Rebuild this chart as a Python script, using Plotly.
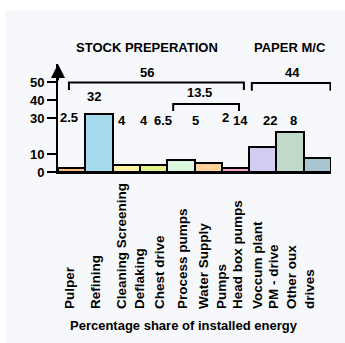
import numpy as np
import plotly.graph_objects as go

# Installed-energy share per consumer (percent)
values = [2.5, 32, 4, 4, 6.5, 5, 2, 14, 22, 8]
bar_colors = ["#fdb97e", "#a6d8ee", "#fdf1a6", "#e4f08c", "#dbf7dd",
              "#fdd39a", "#f5a7c9", "#d1cdf1", "#c1d9c9", "#a9c5d2"]

# Rotated category labels under the bars and where they sit (bar units)
x_labels = ["Pulper", "Refining", "Cleaning Screening", "Deflaking", "Chest drive",
            "Process pumps", "Water Supply<br>Pumps", "Head box pumps",
            "Voccum plant", "PM - drive", "Other oux<br>drives"]
x_label_pos = [-0.06, 0.86, 1.84, 2.5, 3.24, 4.08, 5.16, 6.09, 6.83, 7.41, 8.38]

# Horizontal placement of the value labels (bar units)
value_label_x = [-0.1, 0.82, 1.84, 2.65, 3.35, 4.52, 5.62, 6.19, 7.27, 8.14]

y_ticks = [0, 10, 30, 40, 50]

# Groups: (first bar, last bar) index ranges
stock_idx = (0, 6)
paper_idx = (7, 9)
pumps_idx = (4, 6)

FONT = "Liberation Sans, Arial, Helvetica, sans-serif"
BG = "#f7f8fc"
W, H = 345, 343
M_L, M_R, M_T, M_B = 58, 14, 10, 10
PLOT_W = W - M_L - M_R
PLOT_H = H - M_T - M_B


def py(px):
    """Pixel row (from the top of the figure) -> paper coordinate."""
    return (H - M_B - px) / PLOT_H


def pxx(px):
    """Pixel column -> paper coordinate."""
    return (px - M_L) / PLOT_W


x = np.arange(len(values))

fig = go.Figure(go.Bar(
    x=x, y=values, width=1,
    marker=dict(color=bar_colors, line=dict(color="black", width=2)),
    hoverinfo="skip",
))
# invisible companion trace that carries the rotated category axis
fig.add_trace(go.Scatter(x=[x[0]], y=[0], xaxis="x2", yaxis="y",
                         mode="markers", marker=dict(opacity=0),
                         hoverinfo="skip", showlegend=False))

annotations = []

# value labels: a common row, lifted above any bar that reaches it
row_y = 28.5
for xi, v in zip(value_label_x, values):
    if v >= row_y - 4:
        y = v + 10
    elif v < 3:
        y = row_y + 2
    else:
        y = row_y
    annotations.append(dict(x=xi, y=y, xref="x", yref="y", text=f"{v:g}",
                            showarrow=False, font=dict(size=13, weight="bold")))


# brackets with their totals
def bracket(x0, x1, yt, yb):
    return dict(type="path", xref="x", yref="y",
                path=f"M {x0},{yb} L {x0},{yt} L {x1},{yt} L {x1},{yb}",
                line=dict(color="black", width=2))


shapes = [
    # light panel behind the whole drawing
    dict(type="rect", xref="paper", yref="paper", x0=pxx(5), x1=pxx(W),
         y0=py(H), y1=py(10), fillcolor=BG, line=dict(width=0), layer="below"),
    bracket(-0.1, 6.31, 49.7, 45.6),
    bracket(6.6, 9.48, 49.5, 45.2),
    bracket(3.72, 6.13, 37.8, 33.9),
]
totals = [
    (sum(values[stock_idx[0]:stock_idx[1] + 1]), 2.76, 55.2),
    (sum(values[paper_idx[0]:paper_idx[1] + 1]), 8.1, 55.2),
    (sum(values[pumps_idx[0]:pumps_idx[1] + 1]), 4.7, 43.9),
]
for total, tx, ty in totals:
    annotations.append(dict(x=tx, y=ty, xref="x", yref="y", text=f"{total:g}",
                            showarrow=False, font=dict(size=13, weight="bold")))

# group headings and axis caption
annotations += [
    dict(x=2.76, y=py(47), xref="x", yref="paper", yanchor="middle",
         text="STOCK PREPERATION", showarrow=False,
         font=dict(size=13, weight="bold")),
    dict(x=8.0, y=py(47), xref="x", yref="paper", yanchor="middle",
         text="PAPER M/C", showarrow=False,
         font=dict(size=13, weight="bold")),
    dict(x=pxx(184), y=py(325), xref="paper", yref="paper",
         yanchor="middle", text="Percentage share of installed energy",
         showarrow=False, font=dict(size=13, weight="bold")),
]

# arrowhead on the value axis
annotations.append(dict(x=-0.5, y=60, xref="x", yref="y", ax=-0.5, ay=50,
                        axref="x", ayref="y", text="", showarrow=True,
                        arrowhead=2, arrowsize=1.4, arrowwidth=2,
                        arrowcolor="black"))

x_range = [-0.5, 9.5]
fig.update_layout(
    width=W, height=H,
    margin=dict(l=M_L, r=M_R, t=M_T, b=M_B, autoexpand=False),
    paper_bgcolor="white", plot_bgcolor="rgba(0,0,0,0)",
    font=dict(family=FONT, color="black"),
    showlegend=False, bargap=0,
    annotations=annotations, shapes=shapes,
    xaxis=dict(range=x_range, showline=True, linecolor="black", linewidth=2,
               showticklabels=False, ticks="", showgrid=False, zeroline=False,
               fixedrange=True, automargin=False),
    xaxis2=dict(range=x_range, overlaying="x", side="top", anchor="free",
                position=py(309), tickmode="array", tickvals=x_label_pos,
                ticktext=x_labels, tickangle=-90, ticks="", showline=False,
                showgrid=False, zeroline=False, fixedrange=True,
                automargin=False, tickfont=dict(size=13.5, weight="bold")),
    yaxis=dict(domain=[py(172), py(64)], range=[0, 60], tickvals=y_ticks,
               ticks="outside", ticklen=9, tickwidth=2, tickcolor="black",
               showline=True, linecolor="black", linewidth=2, showgrid=False,
               zeroline=False, tickfont=dict(size=13, weight="bold"),
               fixedrange=True, automargin=False),
)

fig.write_html("out.html")
